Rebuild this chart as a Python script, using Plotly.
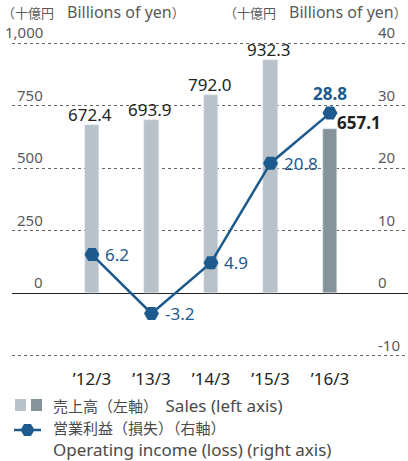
import plotly.graph_objects as go

years = ["’12/3", "’13/3", "’14/3", "’15/3", "’16/3"]
sales = [672.4, 693.9, 792.0, 932.3, 657.1]
op_income = [6.2, -3.2, 4.9, 20.8, 28.8]
left_ticks = [0, 250, 500, 750, 1000]
left_ticktext = ["0", "250", "500", "750", "1,000"]
right_ticks = [-10, 0, 10, 20, 30, 40]

BAR_LIGHT = "#b9c2c9"
BAR_DARK = "#85949b"
BLUE = "#1d5a8e"
GRID = "#666666"
TXT = "#231f20"
GREY_TXT = "#5a5a5a"
LEG_TXT = "#4a4a4a"
FONT = "Noto Sans, Noto Sans CJK JP, sans-serif"

# pixel layout: plot area x 12..408, y 38..361
L, R, T, B = 12, 0, 38, 100
W, H = 408, 461
PW, PH = W - L - R, H - T - B


def px(x):
    return (x - L) / PW


def py(y):
    return (H - B - y) / PH


def big(s, size):
    return '<span style="font-size:%dpx">%s</span>' % (size, s)


x_idx = list(range(len(years)))
bar_colors = [BAR_LIGHT] * (len(years) - 1) + [BAR_DARK]

fig = go.Figure()
fig.add_trace(go.Bar(x=x_idx, y=sales, marker_color=bar_colors, width=0.25,
                     yaxis="y", showlegend=False, hoverinfo="skip"))
fig.add_trace(go.Scatter(x=x_idx, y=op_income, yaxis="y2", mode="lines+markers",
                         line=dict(color=BLUE, width=2.5),
                         marker=dict(symbol="hexagon2", size=15, color=BLUE),
                         showlegend=False, hoverinfo="skip"))

ann = []
# bar value labels
for i, v in enumerate(sales):
    if i == len(sales) - 1:
        ann.append(dict(x=i, y=v, xref="x", yref="y", text="<b>%.1f</b>" % v,
                        showarrow=False, xanchor="left", yanchor="middle",
                        xshift=5, yshift=6, font=dict(size=17, color=TXT)))
    else:
        ann.append(dict(x=i, y=v, xref="x", yref="y", text="%.1f" % v,
                        showarrow=False, xanchor="center", yanchor="bottom",
                        xshift=-2, yshift=-3, font=dict(size=17, color=TXT)))
# line value labels
for i, v in enumerate(op_income):
    if i == len(op_income) - 1:
        ann.append(dict(x=i, y=v, xref="x", yref="y2", text="<b>%.1f</b>" % v,
                        showarrow=False, xanchor="center", yanchor="bottom",
                        yshift=6, font=dict(size=17, color=BLUE)))
    else:
        ann.append(dict(x=i, y=v, xref="x", yref="y2", text="%.1f" % v,
                        showarrow=False, xanchor="left", yanchor="middle",
                        xshift=11, font=dict(size=17, color=BLUE)))
# axis tick labels (sit above gridlines)
for v, t in zip(left_ticks, left_ticktext):
    ann.append(dict(x=px(45), y=v, xref="paper", yref="y", text=t, showarrow=False,
                    xanchor="right", yanchor="bottom", yshift=-1,
                    font=dict(size=15, color=GREY_TXT)))
for v in right_ticks:
    ann.append(dict(x=px(376), y=v, xref="paper", yref="y2", text=str(v), showarrow=False,
                    xanchor="left", yanchor="bottom", yshift=-1,
                    font=dict(size=15, color=GREY_TXT)))
# unit headers
header = "（十億円　" + big("Billions of yen", 16) + "）"
ann.append(dict(x=px(0), y=py(12), xref="paper", yref="paper", text=header,
                showarrow=False, xanchor="left", yanchor="middle",
                font=dict(size=13, color=GREY_TXT)))
ann.append(dict(x=px(409), y=py(12), xref="paper", yref="paper", text=header,
                showarrow=False, xanchor="right", yanchor="middle",
                font=dict(size=13, color=GREY_TXT)))
# legend texts
ann.append(dict(x=px(51), y=py(405), xref="paper", yref="paper",
                text="売上高（左軸）　" + big("Sales (left axis)", 17),
                showarrow=False, xanchor="left", yanchor="middle",
                font=dict(size=15, color=LEG_TXT)))
ann.append(dict(x=px(51), y=py(428), xref="paper", yref="paper", text="営業利益（損失）（右軸）",
                showarrow=False, xanchor="left", yanchor="middle",
                font=dict(size=15, color=LEG_TXT)))
ann.append(dict(x=px(51), y=py(449), xref="paper", yref="paper", text="Operating income (loss) (right axis)",
                showarrow=False, xanchor="left", yanchor="middle",
                font=dict(size=17, color=LEG_TXT)))

shapes = [
    dict(type="rect", xref="paper", yref="paper", x0=px(15), x1=px(26), y0=py(411), y1=py(399),
         fillcolor=BAR_LIGHT, line_width=0),
    dict(type="rect", xref="paper", yref="paper", x0=px(31), x1=px(42), y0=py(411), y1=py(399),
         fillcolor=BAR_DARK, line_width=0),
    dict(type="line", xref="paper", yref="paper", x0=px(14), x1=px(41), y0=py(430), y1=py(430),
         line=dict(color=BLUE, width=2.5)),
    dict(type="path", xref="paper", yref="paper", xsizemode="pixel", ysizemode="pixel",
         xanchor=px(27.5), yanchor=py(430),
         path="M -7,0 L -3.5,6 L 3.5,6 L 7,0 L 3.5,-6 L -3.5,-6 Z",
         fillcolor=BLUE, line_width=0),
]

fig.update_layout(
    width=W, height=H,
    margin=dict(l=L, r=R, t=T, b=B),
    paper_bgcolor="white", plot_bgcolor="white",
    font=dict(family=FONT),
    bargap=0,
    xaxis=dict(tickmode="array", tickvals=x_idx, ticktext=years,
               range=[-80 / 59.5, PW / 59.5 - 80 / 59.5],
               showgrid=False, zeroline=False, showline=False, ticks="",
               ticklabelstandoff=6,
               tickfont=dict(size=17, color=TXT)),
    yaxis=dict(range=[-270, 1020], tickvals=[-250] + left_ticks, showticklabels=False,
               showgrid=True, gridcolor=GRID, griddash="dot", gridwidth=1,
               zeroline=True, zerolinecolor="#222222", zerolinewidth=1.2,
               showline=False, ticks=""),
    yaxis2=dict(range=[-270 / 25, 1020 / 25], overlaying="y", side="right",
                showticklabels=False, showgrid=False, zeroline=False,
                showline=False, ticks=""),
    annotations=ann,
    shapes=shapes,
)

fig.write_html("out.html", config={"displayModeBar": False},
               post_script="document.body.style.margin='0';document.body.style.overflow='hidden';")
